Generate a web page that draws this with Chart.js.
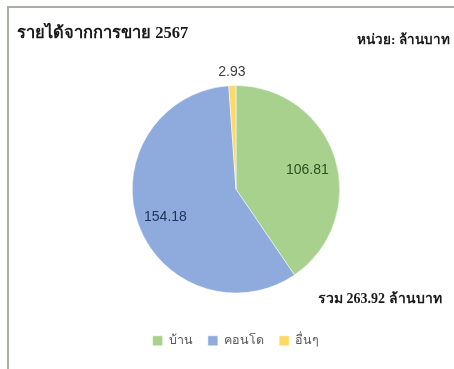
<!DOCTYPE html>
<html>
<head>
<meta charset="utf-8">
<script src="https://cdn.jsdelivr.net/npm/chart.js@4"></script>
<style>
  html, body { margin: 0; padding: 0; background: #fff; }
  #wrap { position: relative; width: 454px; height: 369px; overflow: hidden; }
  #frame { position: absolute; left: 7px; top: 6px; width: 470px; height: 380px; border: 2px solid #a7b1a3; box-sizing: border-box; }
  .txt { position: absolute; font-family: "Liberation Serif", serif; font-weight: bold; color: #1a1a1a; white-space: nowrap; }
  #title { left: 17px; top: 19px; font-size: 16.5px; }
  #unit { left: 357px; top: 28px; font-size: 13.5px; }
  #total { left: 318px; top: 287px; font-size: 14px; }
  canvas { position: absolute; left: 0; top: 0; }
</style>
</head>
<body>
<div id="wrap">
  <div id="frame"></div>
  <canvas id="chart-sales" width="454" height="369"></canvas>
  <div class="txt" id="title">รายได้จากการขาย 2567</div>
  <div class="txt" id="unit">หน่วย: ล้านบาท</div>
  <div class="txt" id="total">รวม 263.92 ล้านบาท</div>
</div>
<script>
const categories = ["บ้าน", "คอนโด", "อื่นๆ"];
const revenue = [106.81, 154.18, 2.93];
const sliceColors = ["#a9d18e", "#8faadc", "#ffd966"];
const labelColors = ["#2a4f1a", "#1f3560", "#404040"];

// value labels: inside slices, small ones outside the rim
const valueLabels = {
  id: "valueLabels",
  afterDatasetsDraw(chart) {
    const ctx = chart.ctx;
    const meta = chart.getDatasetMeta(0);
    const total = revenue.reduce((a, b) => a + b, 0);
    ctx.save();
    ctx.font = "14px 'Liberation Sans', Arial, sans-serif";
    ctx.textAlign = "center";
    ctx.textBaseline = "middle";
    meta.data.forEach((arc, i) => {
      const mid = (arc.startAngle + arc.endAngle) / 2;
      const small = revenue[i] / total < 0.03;
      const r = small ? arc.outerRadius + 13 : arc.outerRadius * 0.72;
      const x = arc.x + Math.cos(mid) * r;
      const y = arc.y + Math.sin(mid) * r + (small ? 0 : 3);
      ctx.fillStyle = labelColors[i];
      ctx.fillText(revenue[i].toFixed(2), x, y);
    });
    ctx.restore();
  },
};

new Chart(document.getElementById("chart-sales"), {
  type: "pie",
  data: {
    labels: categories,
    datasets: [
      {
        data: revenue,
        backgroundColor: sliceColors,
        borderColor: "#ffffff",
        borderWidth: 0.5,
      },
    ],
  },
  options: {
    responsive: false,
    animation: false,
    layout: { padding: { top: 59, left: 132, right: 114, bottom: 12 } },
    plugins: {
      tooltip: { enabled: false },
      legend: {
        position: "bottom",
        labels: {
          boxWidth: 10,
          boxHeight: 10,
          padding: 15,
          color: "#595959",
          font: { size: 12.5, family: "'Liberation Sans', Arial, sans-serif" },
        },
      },
    },
  },
  plugins: [valueLabels],
});
</script>
</body>
</html>
